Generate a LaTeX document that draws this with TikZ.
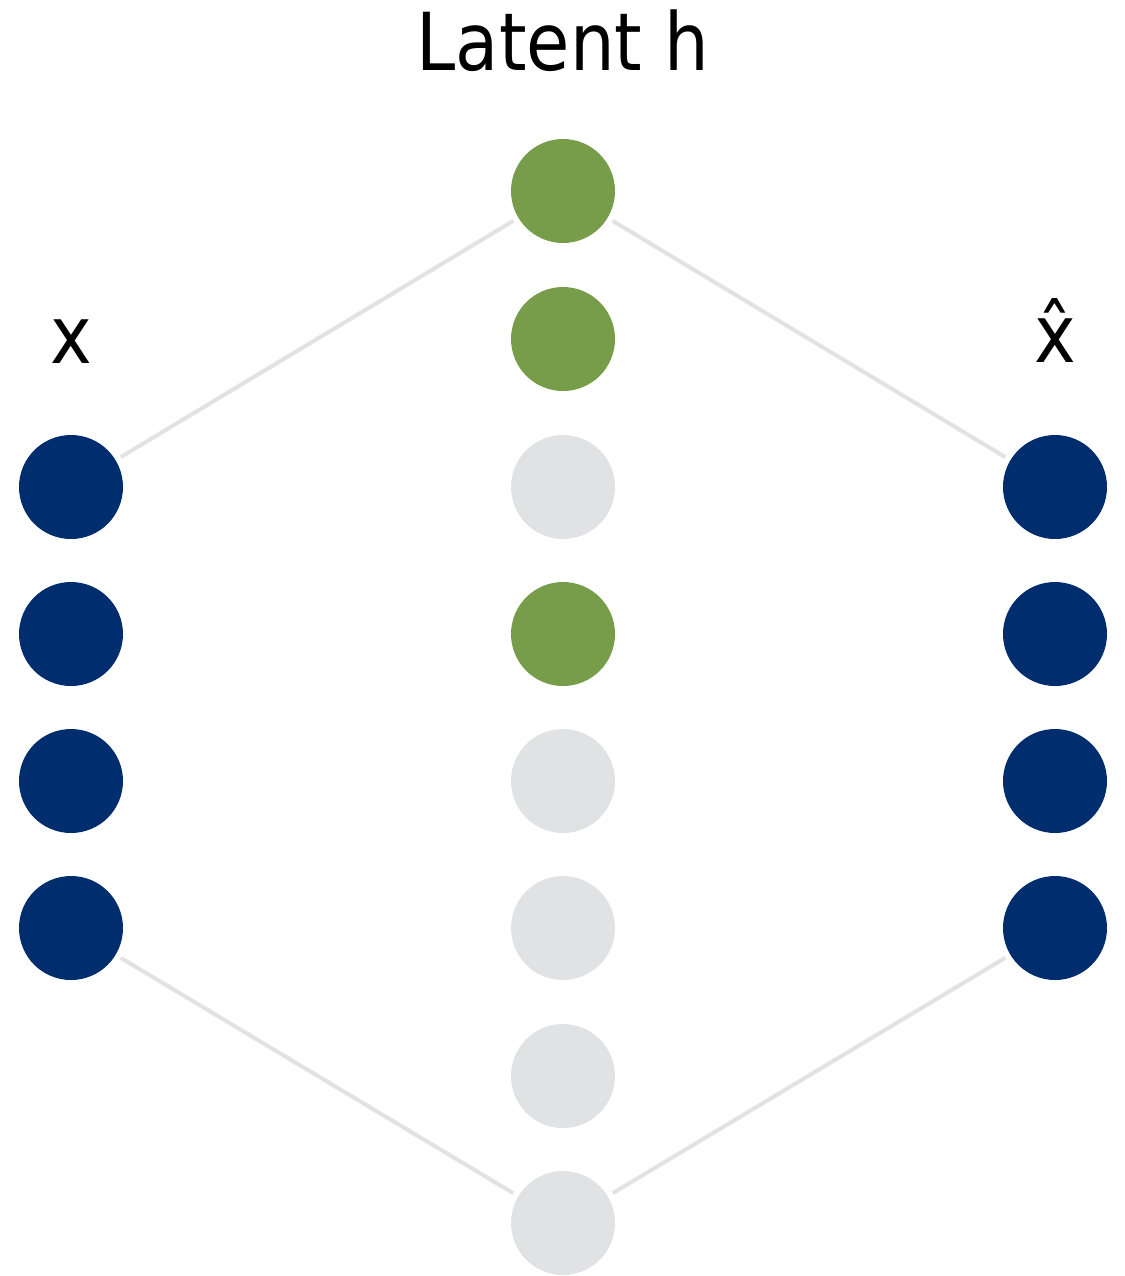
\documentclass[tikz,border=0pt]{standalone}
\usepackage{fontspec}
\setmainfont{DejaVu Sans}[FakeStretch=0.88]
\definecolor{navy}{HTML}{002D6E}
\definecolor{leaf}{HTML}{789D4A}
\definecolor{pale}{HTML}{E1E2E4}
\definecolor{wire}{HTML}{E2E2E2}
\begin{document}
\begin{tikzpicture}[x=0.5pt,y=-0.5pt,
  unit/.style={circle,inner sep=0pt,minimum size=52pt,outer sep=3pt,draw=none},
  inunit/.style={unit,fill=navy},
  on/.style={unit,fill=leaf},
  off/.style={unit,fill=pale},
  wireline/.style={draw=wire,line width=2pt},
  lbl/.style={font=\fontsize{40pt}{48pt}\selectfont,anchor=base,inner sep=0pt}]
\useasboundingbox (0,0) rectangle (1125,1276);
% input column
\node[inunit] (x1) at (71,487) {};
\node[inunit] (x2) at (71,634) {};
\node[inunit] (x3) at (71,781) {};
\node[inunit] (x4) at (71,928) {};
% output column
\node[inunit] (y1) at (1055,487) {};
\node[inunit] (y2) at (1055,634) {};
\node[inunit] (y3) at (1055,781) {};
\node[inunit] (y4) at (1055,928) {};
% latent column
\node[on] (h1) at (563,191) {};
\node[on] (h2) at (563,339) {};
\node[off] (h3) at (563,487) {};
\node[on] (h4) at (563,634) {};
\node[off] (h5) at (563,781) {};
\node[off] (h6) at (563,928) {};
\node[off] (h7) at (563,1076) {};
\node[off] (h8) at (563,1223) {};
% connectors
\draw[wireline] (x1) -- (h1);
\draw[wireline] (h1) -- (y1);
\draw[wireline] (x4) -- (h8);
\draw[wireline] (h8) -- (y4);
% labels
\node[lbl] (title) at (563,70) {Latent h};
\node[lbl] (xin) at (71,363) {x};
\node[lbl] (xout) at (1055,362) {x̂};
\end{tikzpicture}
\end{document}
